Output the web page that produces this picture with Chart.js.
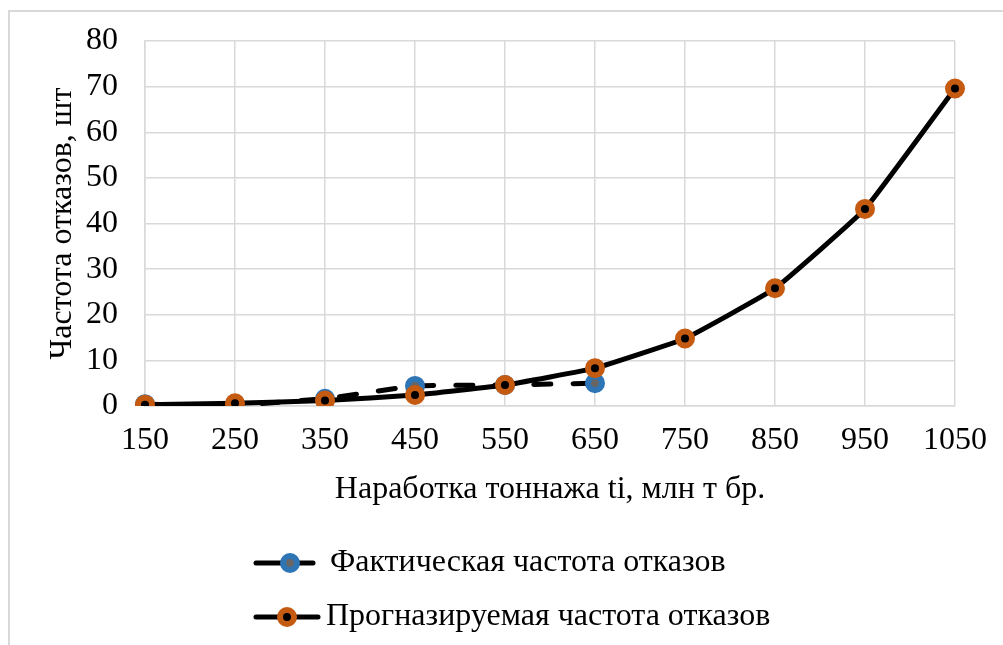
<!DOCTYPE html>
<html>
<head>
<meta charset="utf-8">
<script src="https://cdn.jsdelivr.net/npm/chart.js@4.4.0/dist/chart.umd.min.js"></script>
<style>
    html, body { margin: 0; padding: 0; background: #fff; overflow: hidden; }
    #frame { position: absolute; left: 8px; top: 10px; width: 1100px; height: 700px; border: 2px solid #d9d9d9; }
    #wrap { position: absolute; left: 0; top: 0; width: 1003px; height: 645px; }
</style>
</head>
<body>
<div id="frame"></div>
<div id="wrap"><canvas id="failChart"></canvas></div>
<script>
// Наработка тоннажа, млн т бр.
const categories = ['150', '250', '350', '450', '550', '650', '750', '850', '950', '1050'];
// Фактическая частота отказов
const actualValues = [0.4, 0.2, 1.6, 4.4, 4.6, 5.0];
// Прогназируемая частота отказов
const forecastValues = [0.3, 0.6, 1.2, 2.4, 4.6, 8.3, 14.8, 25.8, 43.2, 69.6];
const yTicks = [0, 10, 20, 30, 40, 50, 60, 70, 80];

const FONT = 'Liberation Serif, Times New Roman, serif';
const FONT_SIZE = 32;

// legend with line + marker, drawn below the axis
const legendPlugin = {
    id: 'lineLegend',
    afterDraw(chart) {
        const ctx = chart.ctx;
        const rows = [563, 617];
        chart.data.datasets.forEach((ds, i) => {
            const y = rows[i];
            ctx.save();
            ctx.strokeStyle = ds.borderColor;
            ctx.lineWidth = ds.borderWidth;
            ctx.lineCap = 'round';
            ctx.beginPath();
            ctx.moveTo(256, y);
            ctx.lineTo(i === 0 ? 313 : 318, y);
            ctx.stroke();
            ctx.beginPath();
            ctx.arc(i === 0 ? 290 : 287, y, ds.pointRadius, 0, Math.PI * 2);
            ctx.fillStyle = ds.pointBackgroundColor;
            ctx.fill();
            ctx.lineWidth = ds.pointBorderWidth;
            ctx.strokeStyle = ds.pointBorderColor;
            ctx.stroke();
            ctx.fillStyle = '#000';
            ctx.font = FONT_SIZE + 'px ' + FONT;
            ctx.textBaseline = 'middle';
            ctx.textAlign = 'left';
            ctx.fillText(ds.label, i === 0 ? 330 : 326, y);
            ctx.restore();
        });
    }
};

const ctx = document.getElementById('failChart').getContext('2d');
window.failChart = new Chart(ctx, {
    type: 'line',
    data: {
        labels: categories,
        datasets: [
            {
                label: 'Фактическая частота отказов',
                data: actualValues,
                borderColor: '#000000',
                borderWidth: 5,
                borderDash: [17, 22],
                borderCapStyle: 'round',
                tension: 0.1,
                pointRadius: 7,
                pointBorderWidth: 6,
                pointBackgroundColor: '#666666',
                pointBorderColor: '#2e75b6',
                order: 2
            },
            {
                label: 'Прогназируемая частота отказов',
                data: forecastValues,
                borderColor: '#000000',
                borderWidth: 5,
                tension: 0.1,
                pointRadius: 7,
                pointBorderWidth: 6,
                pointBackgroundColor: '#000000',
                pointBorderColor: '#c55a11',
                order: 1
            }
        ]
    },
    options: {
        responsive: true,
        maintainAspectRatio: false,
        animation: false,
        layout: {
            padding: { left: 0, right: 48, top: 41, bottom: 136 }
        },
        plugins: {
            legend: { display: false },
            tooltip: { enabled: false }
        },
        scales: {
            x: {
                offset: false,
                afterFit: scale => { scale.height = 103; },
                grid: { color: '#d9d9d9', lineWidth: 1.5, drawTicks: false },
                border: { color: '#d9d9d9', width: 1.5 },
                ticks: {
                    color: '#000',
                    padding: 15,
                    maxRotation: 0,
                    autoSkip: false,
                    font: { family: FONT, size: FONT_SIZE }
                },
                title: {
                    display: true,
                    text: 'Наработка тоннажа ti, млн т бр.',
                    color: '#000',
                    padding: { top: 0, bottom: 0 },
                    font: { family: FONT, size: FONT_SIZE }
                }
            },
            y: {
                min: 0,
                max: 80,
                afterFit: scale => {
                    scale.width = 145;
                    scale.paddingTop = 0;
                    scale.paddingBottom = 0;
                },
                afterBuildTicks: scale => { scale.ticks = yTicks.map(v => ({ value: v })); },
                grid: { color: '#d9d9d9', lineWidth: 1.5, drawTicks: false },
                border: { color: '#d9d9d9', width: 1.5 },
                ticks: {
                    color: '#000',
                    padding: 27,
                    font: { family: FONT, size: FONT_SIZE }
                },
                title: {
                    display: true,
                    text: 'Частота отказов, шт',
                    color: '#000',
                    padding: { top: 43, bottom: 0 },
                    font: { family: FONT, size: FONT_SIZE }
                }
            }
        }
    },
    plugins: [legendPlugin]
});
</script>
</body>
</html>
